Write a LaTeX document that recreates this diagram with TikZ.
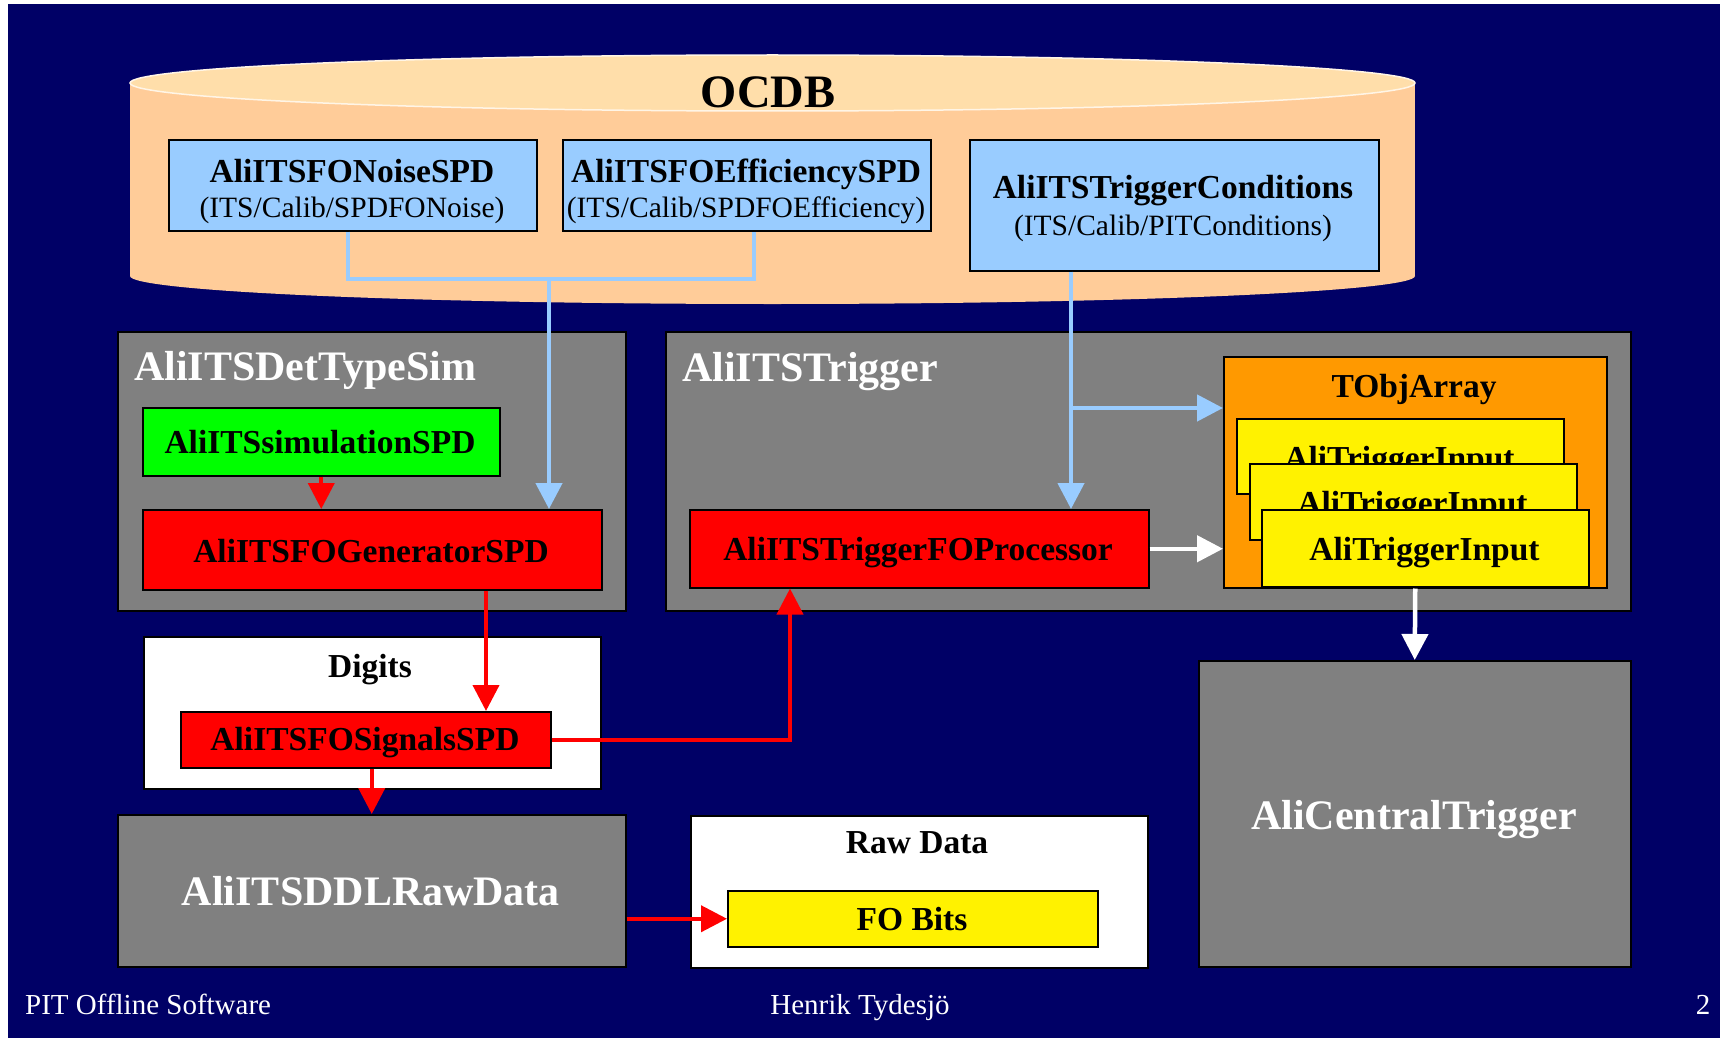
\documentclass[tikz,border=0pt]{standalone}
\usepackage{fontspec}
\setmainfont{Liberation Serif}
\usetikzlibrary{arrows.meta}
\definecolor{navy}{RGB}{0,0,102}
\definecolor{peach}{RGB}{255,204,153}
\definecolor{peachtop}{RGB}{255,222,170}
\definecolor{lblue}{RGB}{153,204,255}
\definecolor{boxgray}{RGB}{128,128,128}
\definecolor{orng}{RGB}{255,153,0}
\begin{document}
\begin{tikzpicture}[x=1pt,y=-1pt,
  box/.style={draw=black, line width=1.5pt, anchor=north west, inner sep=0pt},
  bt/.style={anchor=base, inner sep=0pt, font=\fontsize{33.5}{36}\selectfont\bfseries},
  st/.style={anchor=base, inner sep=0pt, font=\fontsize{29.5}{32}\selectfont},
  big/.style={anchor=base, inner sep=0pt, text=white, font=\fontsize{42}{46}\selectfont\bfseries},
  ft/.style={anchor=base, inner sep=0pt, text=white, font=\fontsize{29}{32}\selectfont},
  tip/.style={-{Triangle[length=26pt,width=26pt]}},
  bconn/.style={draw=lblue, line width=4.5pt},
  rconn/.style={draw=red, line width=4pt, tip},
  wconn/.style={draw=white, line width=4.5pt, tip}]
\useasboundingbox (0,0) rectangle (1720,1038);
\fill[white] (0,0) rectangle (1720,1038);
\fill[navy] (8,4) rectangle (1720,1038);
% OCDB cylinder
\fill[peach] (130,83) rectangle (1415,276);
\fill[peach] (772.5,276) ellipse[x radius=642.5, y radius=28];
\filldraw[fill=peachtop, draw=white!70!peachtop, line width=1.5pt] (772.5,83) ellipse[x radius=642.5, y radius=28];
\node[anchor=base, inner sep=0pt, font=\fontsize{46.5}{50}\selectfont\bfseries] (ocdb) at (768,108) {OCDB};
% calibration objects
\node[box, fill=lblue, minimum width=368pt, minimum height=91pt] (noise) at (168,139) {};
\node[bt] (noiset) at (352,182) {AliITSFONoiseSPD};
\node[st] (noises) at (352,217) {(ITS/Calib/SPDFONoise)};
\node[box, fill=lblue, minimum width=368pt, minimum height=91pt] (effic) at (562,139) {};
\node[bt] (effict) at (746,182) {AliITSFOEfficiencySPD};
\node[st] (effics) at (746,217) {(ITS/Calib/SPDFOEfficiency)};
\node[box, fill=lblue, minimum width=409pt, minimum height=131pt] (cond) at (969,139) {};
\node[bt] (condt) at (1173,198) {AliITSTriggerConditions};
\node[st] (conds) at (1173,235) {(ITS/Calib/PITConditions)};
% containers
\node[box, fill=boxgray, minimum width=508pt, minimum height=279pt] (dts) at (117,331) {};
\node[big, anchor=base west] (dtst) at (134,380) {AliITSDetTypeSim};
\node[box, fill=boxgray, minimum width=965pt, minimum height=279pt] (trig) at (665,331) {};
\node[big, anchor=base west] (trigt) at (682,381) {AliITSTrigger};
\node[box, fill=boxgray, minimum width=508pt, minimum height=152pt] (ddl) at (117,814) {};
\node[big] (ddlt) at (371,905) {AliITSDDLRawData};
\node[box, fill=boxgray, minimum width=432pt, minimum height=306pt] (central) at (1198,660) {};
\node[big] (centralt) at (1414,829) {AliCentralTrigger};
\node[box, fill=white, minimum width=457pt, minimum height=152pt] (digits) at (143,636) {};
\node[bt] (digitst) at (370,677) {Digits};
\node[box, fill=white, minimum width=457pt, minimum height=152pt] (raw) at (690,815) {};
\node[bt] (rawt) at (917,853) {Raw Data};
% inner boxes
\node[box, fill=green, minimum width=357pt, minimum height=68pt] (sim) at (142,407) {};
\node[bt] (simt) at (320,453) {AliITSsimulationSPD};
\node[box, fill=red, minimum width=459pt, minimum height=80pt] (gen) at (142,509) {};
\node[bt] (gent) at (371,562) {AliITSFOGeneratorSPD};
\node[box, fill=red, minimum width=370pt, minimum height=56pt] (sig) at (180,711) {};
\node[bt] (sigt) at (365,750) {AliITSFOSignalsSPD};
\node[box, fill=red, minimum width=459pt, minimum height=78pt] (proc) at (689,509) {};
\node[bt] (proct) at (918,560) {AliITSTriggerFOProcessor};
\node[box, fill=yellow, minimum width=370pt, minimum height=56pt] (fobits) at (727,890) {};
\node[bt] (fobitst) at (912,930) {FO Bits};
\node[box, fill=orng, minimum width=383pt, minimum height=231pt] (tobj) at (1223,356) {};
\node[bt] (tobjt) at (1414,397) {TObjArray};
\node[box, fill=yellow, minimum width=327pt, minimum height=75pt] (in1) at (1236,418) {};
\node[bt] (in1t) at (1399.5,469) {AliTriggerInput};
\node[box, fill=yellow, minimum width=327pt, minimum height=76pt] (in2) at (1249,463) {};
\node[bt] (in2t) at (1412.5,514) {AliTriggerInput};
\node[box, fill=yellow, minimum width=327pt, minimum height=77pt] (in3) at (1261,509) {};
\node[bt] (in3t) at (1424.5,560) {AliTriggerInput};
% connectors
\coordinate (jn) at (549,279);
\draw[bconn] ([xshift=-5pt]noise.south) |- (jn) -| ([xshift=7pt]effic.south);
\draw[bconn, tip] (jn) -- (jn |- gen.north);
\coordinate (tc) at (1071,408);
\draw[bconn, tip] (tc |- cond.south) -- (tc |- proc.north);
\draw[bconn, tip] (tc) -- (tc -| tobj.west);
\draw[rconn] (sim.south) -- (sim.south |- gen.north);
\coordinate (gx) at (486,600);
\draw[rconn] (gx |- gen.south) -- (gx |- sig.north);
\draw[rconn] (sig.south -| ddl.north) -- (ddl.north);
\coordinate (px) at (790,650);
\draw[rconn] (sig.east) -| (px |- proc.south);
\draw[rconn] (ddl.east |- fobits.west) -- (fobits.west);
\draw[wconn] (proc.east) -- (proc.east -| tobj.west);
\draw[wconn] (tobj.south) -- (central.north);
% footer
\node[ft, anchor=base west] (f1) at (25,1014) {PIT Offline Software};
\node[ft] (f2) at (860,1014) {Henrik Tydesjö};
\node[ft] (f3) at (1703,1014) {2};
\end{tikzpicture}
\end{document}
